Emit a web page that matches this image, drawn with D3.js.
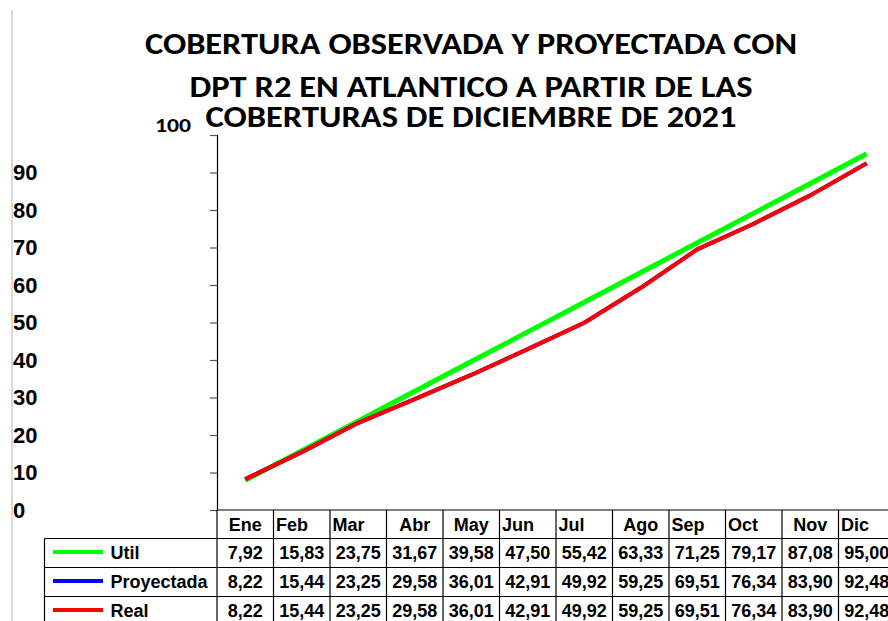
<!DOCTYPE html>
<html>
<head>
<meta charset="utf-8">
<script src="https://cdn.jsdelivr.net/npm/d3@7"></script>
<style>
  html, body { margin: 0; padding: 0; background: #fff; }
  svg { display: block; }
</style>
</head>
<body>
<svg id="chart" width="888" height="621"></svg>
<script>
// ---- data ----
const months = ["Ene","Feb","Mar","Abr","May","Jun","Jul","Ago","Sep","Oct","Nov","Dic"];
const util = [7.92,15.83,23.75,31.67,39.58,47.50,55.42,63.33,71.25,79.17,87.08,95.00];
const proyectada = [8.22,15.44,23.25,29.58,36.01,42.91,49.92,59.25,69.51,76.34,83.90,92.48];
const real = [8.22,15.44,23.25,29.58,36.01,42.91,49.92,59.25,69.51,76.34,83.90,92.48];
const seriesNames = ["Util","Proyectada","Real"];
const yTicks = [0,10,20,30,40,50,60,70,80,90,100];
const titleLines = ["COBERTURA OBSERVADA Y PROYECTADA CON","DPT R2 EN ATLANTICO A PARTIR DE LAS","COBERTURAS DE DICIEMBRE DE 2021"];

// ---- layout / style ----
const series = [
  {name: seriesNames[0], values: util, color: "#00ff00", width: 5},
  {name: seriesNames[1], values: proyectada, color: "#0000ff", width: 4},
  {name: seriesNames[2], values: real, color: "#ff0000", width: 4}
];
const svg = d3.select("#chart");
const plotLeft = 217, plotRight = 895, plotTop = 135, plotBottom = 510;
const x = d3.scaleBand().domain(months).range([plotLeft, plotRight]).padding(0);
const y = d3.scaleLinear().domain([0, 100]).range([plotBottom, plotTop]);
const bw = x.bandwidth();
const cx = m => x(m) + bw / 2;
const fmt = v => d3.format(".2f")(v).replace(".", ",");
const arial = "'Liberation Sans', Arial, sans-serif";
const titleFont = "Carlito, Lato, 'Open Sans', sans-serif";

// left grey border
svg.append("line").attr("x1", 12).attr("x2", 12).attr("y1", 10).attr("y2", 621)
  .attr("stroke", "#d9d9d9").attr("stroke-width", 2);

// title
const titleBase = [54, 97, 127];
const titleWidths = [652, 563, 531];
svg.append("g").selectAll("text").data(titleLines).join("text")
  .attr("x", 471).attr("y", (d, i) => titleBase[i])
  .attr("text-anchor", "middle")
  .attr("font-family", titleFont).attr("font-weight", "bold").attr("font-size", 30)
  .attr("textLength", (d, i) => titleWidths[i]).attr("lengthAdjust", "spacingAndGlyphs")
  .attr("fill", "#000").text(d => d);

// y axis
const yAxis = d3.axisLeft(y).tickValues(yTicks).tickSize(7).tickFormat("");
const gy = svg.append("g").attr("transform", `translate(${plotLeft},0)`).call(yAxis);
gy.select(".domain").attr("stroke", "#000").attr("stroke-width", 1.2);
gy.selectAll(".tick line").attr("stroke", "#555").attr("stroke-width", 1.2);

// y tick labels
svg.append("g").selectAll("text").data(yTicks.filter(t => t < 100)).join("text")
  .attr("x", 13).attr("y", d => y(d)).attr("dy", "0.36em")
  .attr("font-family", arial).attr("font-weight", "bold").attr("font-size", 22)
  .attr("fill", "#000").text(d => d);
svg.append("text").attr("x", 191).attr("y", y(100) - 3)
  .attr("text-anchor", "end")
  .attr("font-family", titleFont).attr("font-weight", "bold").attr("font-size", 21)
  .attr("textLength", 36).attr("lengthAdjust", "spacingAndGlyphs")
  .attr("fill", "#000").text(yTicks[yTicks.length - 1]);

// lines
const line = d3.line().x((d, i) => cx(months[i])).y(d => y(d));
svg.append("g").selectAll("path").data(series).join("path")
  .attr("d", d => line(d.values))
  .attr("fill", "none").attr("stroke", d => d.color).attr("stroke-width", d => d.width)
  .attr("stroke-linejoin", "round");

// data table
const headerTop = plotBottom, rowTop = 538.5, rowH = 29, legendLeft = 44.5;
const tbl = svg.append("g").attr("stroke", "#000").attr("stroke-width", 1.2);
tbl.append("line").attr("x1", plotLeft).attr("x2", plotRight).attr("y1", headerTop).attr("y2", headerTop);
d3.range(series.length + 1).forEach(i => {
  tbl.append("line").attr("x1", legendLeft).attr("x2", plotRight)
    .attr("y1", rowTop + i * rowH).attr("y2", rowTop + i * rowH);
});
months.concat(["_end"]).forEach((m, i) => {
  const xx = plotLeft + i * bw;
  tbl.append("line").attr("x1", xx).attr("x2", xx).attr("y1", headerTop).attr("y2", rowTop + series.length * rowH);
});
tbl.append("line").attr("x1", legendLeft).attr("x2", legendLeft).attr("y1", rowTop).attr("y2", rowTop + series.length * rowH);

// header labels
const leftAligned = new Set(["Feb","Mar","Jun","Jul","Sep","Oct","Dic"]);
svg.append("g").selectAll("text").data(months).join("text")
  .attr("x", d => leftAligned.has(d) ? x(d) + 2.5 : cx(d))
  .attr("text-anchor", d => leftAligned.has(d) ? "start" : "middle")
  .attr("y", (headerTop + rowTop) / 2).attr("dy", "0.36em")
  .attr("font-family", arial).attr("font-weight", "bold").attr("font-size", 18)
  .attr("fill", "#000").text(d => d);

// rows
series.forEach((s, r) => {
  const yc = rowTop + r * rowH + rowH / 2;
  svg.append("line").attr("x1", 53).attr("x2", 103).attr("y1", yc - 1).attr("y2", yc - 1)
    .attr("stroke", s.color).attr("stroke-width", 4);
  svg.append("text").attr("x", 110.5).attr("y", yc).attr("dy", "0.36em")
    .attr("font-family", arial).attr("font-weight", "bold").attr("font-size", 18)
    .attr("fill", "#000").text(s.name);
  svg.append("g").selectAll("text").data(s.values).join("text")
    .attr("x", (d, i) => cx(months[i])).attr("y", yc).attr("dy", "0.36em")
    .attr("text-anchor", "middle")
    .attr("font-family", arial).attr("font-weight", "bold").attr("font-size", 18)
    .attr("fill", "#000").text(d => fmt(d));
});
</script>
</body>
</html>
